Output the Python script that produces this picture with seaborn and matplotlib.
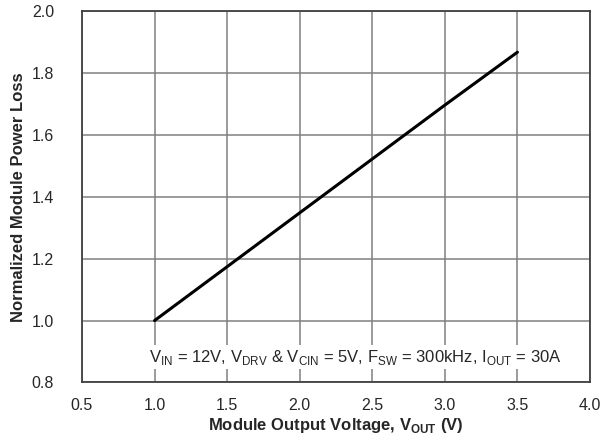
import seaborn as sns
import matplotlib.pyplot as plt
import pandas as pd

# values
vout = [1.0, 1.5, 2.0, 2.5, 3.0, 3.5]
norm_loss = [1.0, 1.174, 1.348, 1.522, 1.696, 1.867]
x_ticks = [0.5, 1.0, 1.5, 2.0, 2.5, 3.0, 3.5, 4.0]
y_ticks = [0.8, 1.0, 1.2, 1.4, 1.6, 1.8, 2.0]

sns.set_style("white")
plt.rcParams['font.family'] = ['Liberation Sans', 'DejaVu Sans']
plt.rcParams['mathtext.fontset'] = 'custom'
plt.rcParams['mathtext.rm'] = 'Liberation Sans'
plt.rcParams['mathtext.bf'] = 'Liberation Sans:bold'

df = pd.DataFrame({"vout": vout, "loss": norm_loss})

fig = plt.figure(figsize=(6.1, 4.4), dpi=100)
ax = fig.add_axes([0.1344, 0.1307, 0.8328, 0.8443])

sns.lineplot(x="vout", y="loss", data=df, ax=ax, color="black", linewidth=2.2, zorder=3)

ax.set_xlim(0.5, 4.0)
ax.set_ylim(0.8, 2.0)
ax.set_xticks(x_ticks)
ax.set_yticks(y_ticks)
ax.set_xticklabels([f"{v:.1f}" for v in x_ticks], fontsize=11.5)
ax.set_yticklabels([f"{v:.1f}" for v in y_ticks], fontsize=11.5)
ax.tick_params(axis="x", length=0, pad=11)
ax.tick_params(axis="y", length=0, pad=20)
ax.grid(True, color="#808080", linewidth=1.1)
for s in ax.spines.values():
    s.set_color("#404040")
    s.set_linewidth(1.3)

ax.set_xlabel(r"Module Output Voltage, V$_{\mathbf{OUT}}$ (V)", fontsize=12, fontweight="bold", labelpad=2)
ax.set_ylabel("Normalized Module Power Loss", fontsize=12, fontweight="bold", labelpad=4)

ax.text(2.38, 0.882,
        r"V$_{\mathrm{IN}}$ = 12V, V$_{\mathrm{DRV}}$ & V$_{\mathrm{CIN}}$ = 5V, "
        r"F$_{\mathrm{SW}}$ = 300kHz, I$_{\mathrm{OUT}}$ = 30A",
        fontsize=12, ha="center", va="center", zorder=4,
        bbox=dict(facecolor="white", edgecolor="none", pad=2))

plt.savefig("out.png", dpi=100)
